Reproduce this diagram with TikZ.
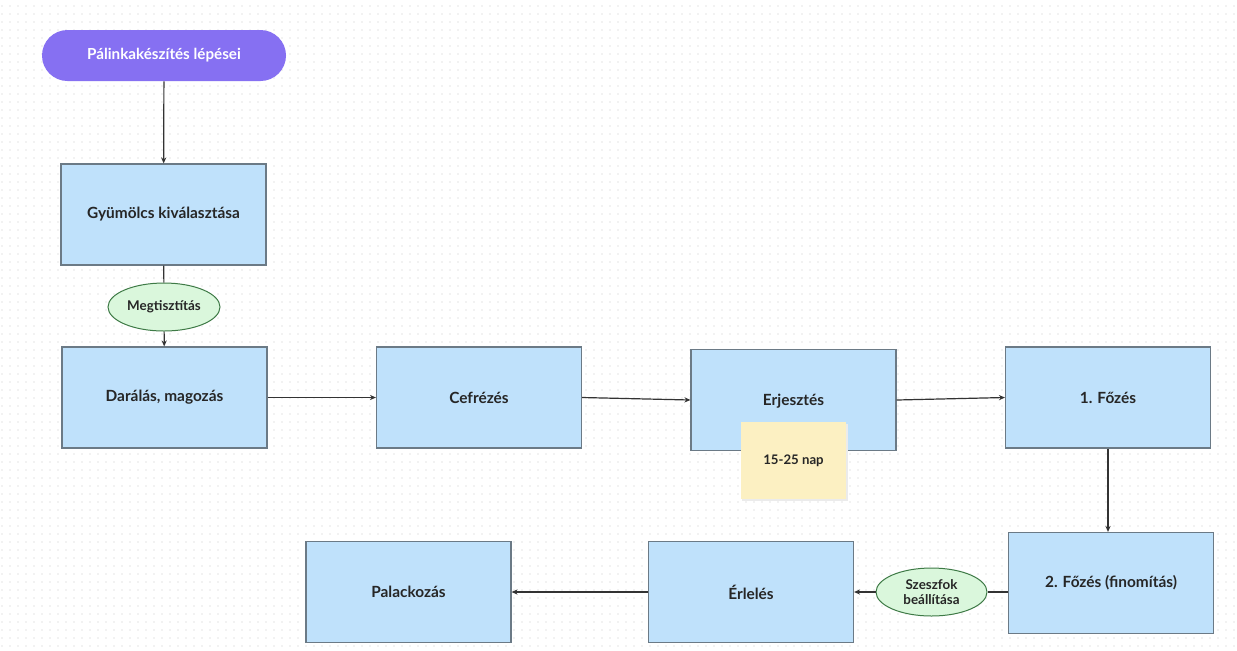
\documentclass[tikz,border=0pt]{standalone}
\usepackage{fontspec}
\setmainfont{Lato}
\usetikzlibrary{arrows.meta,shapes.geometric}
\definecolor{boxfill}{HTML}{BFE1FB}
\definecolor{boxline}{HTML}{6B7A86}
\definecolor{pill}{HTML}{8670F2}
\definecolor{ellfill}{HTML}{DAF7DC}
\definecolor{ellline}{HTML}{3E7A46}
\definecolor{sticky}{HTML}{FCF0C2}
\definecolor{dotc}{HTML}{E6E6E6}
\definecolor{conn}{HTML}{333333}
\begin{document}
\begin{tikzpicture}[x=0.5pt,y=-0.5pt,
  stepbox/.style={draw=boxline,line width=0.6pt,fill=boxfill,minimum width=102.5pt,minimum height=50.5pt,inner sep=0pt,font=\fontsize{7.7}{9}\selectfont\bfseries,text=black!85},
  titlepill/.style={fill=pill,rounded corners=12.75pt,minimum width=122pt,minimum height=25.5pt,inner sep=0pt,text=white,font=\fontsize{7.6}{9}\selectfont\bfseries},
  ell/.style={ellipse,draw=ellline,line width=0.5pt,fill=ellfill,inner sep=0pt,font=\fontsize{6.7}{7.8}\selectfont\bfseries,align=center,text=black!85},
  note/.style={fill=sticky,minimum width=52.5pt,minimum height=38.5pt,inner sep=0pt,font=\fontsize{6.6}{8}\selectfont\bfseries,text=black!85},
  conn/.style={draw=conn,line width=0.6pt},
  arr/.style={conn,-{Stealth[length=3pt,width=2.6pt]}}]
\useasboundingbox (0,0) rectangle (1237,650);
\fill[white] (0,0) rectangle (1237,650);
% dot grid
\foreach \yy in {6,14,...,646}{
  \draw[dotc,line width=0.8pt,line cap=round,dash pattern=on 0pt off 4pt] (2,\yy) -- (1237,\yy);
}
% nodes
\node[titlepill] (title) at (164,55.5) {Pálinkakészítés lépései};
\node[stepbox] (gyum) at (163.5,214.5) {Gyümölcs kiválasztása};
\node[ell,minimum width=56pt,minimum height=24pt] (megt) at (164,307) {Megtisztítás};
\node[stepbox] (daral) at (164.5,397.5) {Darálás, magozás};
\node[stepbox] (cefr) at (479,397.5) {Cefrézés};
\node[stepbox] (erj) at (793.5,400) {};
\node[stepbox] (fozes1) at (1108,397.5) {1. Főzés};
\node[stepbox] (fozes2) at (1111,583) {2. Főzés (finomítás)};
\node[ell,minimum width=55.5pt,minimum height=24pt] (szesz) at (931.5,592) {Szeszfok\\beállítása};
\node[stepbox] (erlel) at (751,592) {Érlelés};
\node[stepbox] (palack) at (408.5,592) {Palackozás};
% sticky note
\fill[black!8] (742,424) rectangle (848,501);
\node[note] (nap) at (793.5,460.5) {15-25 nap};
\node[font=\fontsize{7.7}{9}\selectfont\bfseries,text=black!85] (erjt) at (793.5,401) {Erjesztés};
% connectors
\draw[arr] (title) -- (gyum);
\draw[conn] (gyum) -- (megt);
\draw[arr] (megt) -- (daral);
\draw[arr] (daral.east) -- (cefr.west);
\draw[arr] (cefr.east) -- (erj.west);
\draw[arr] (erj.east) -- (fozes1.west);
\draw[arr] (fozes1.south) -- (fozes1.south |- fozes2.north);
\draw[conn] (fozes2.west |- szesz.east) -- (szesz.east);
\draw[arr] (szesz.west) -- (erlel.east);
\draw[arr] (erlel.west) -- (palack.east);
\end{tikzpicture}
\end{document}
